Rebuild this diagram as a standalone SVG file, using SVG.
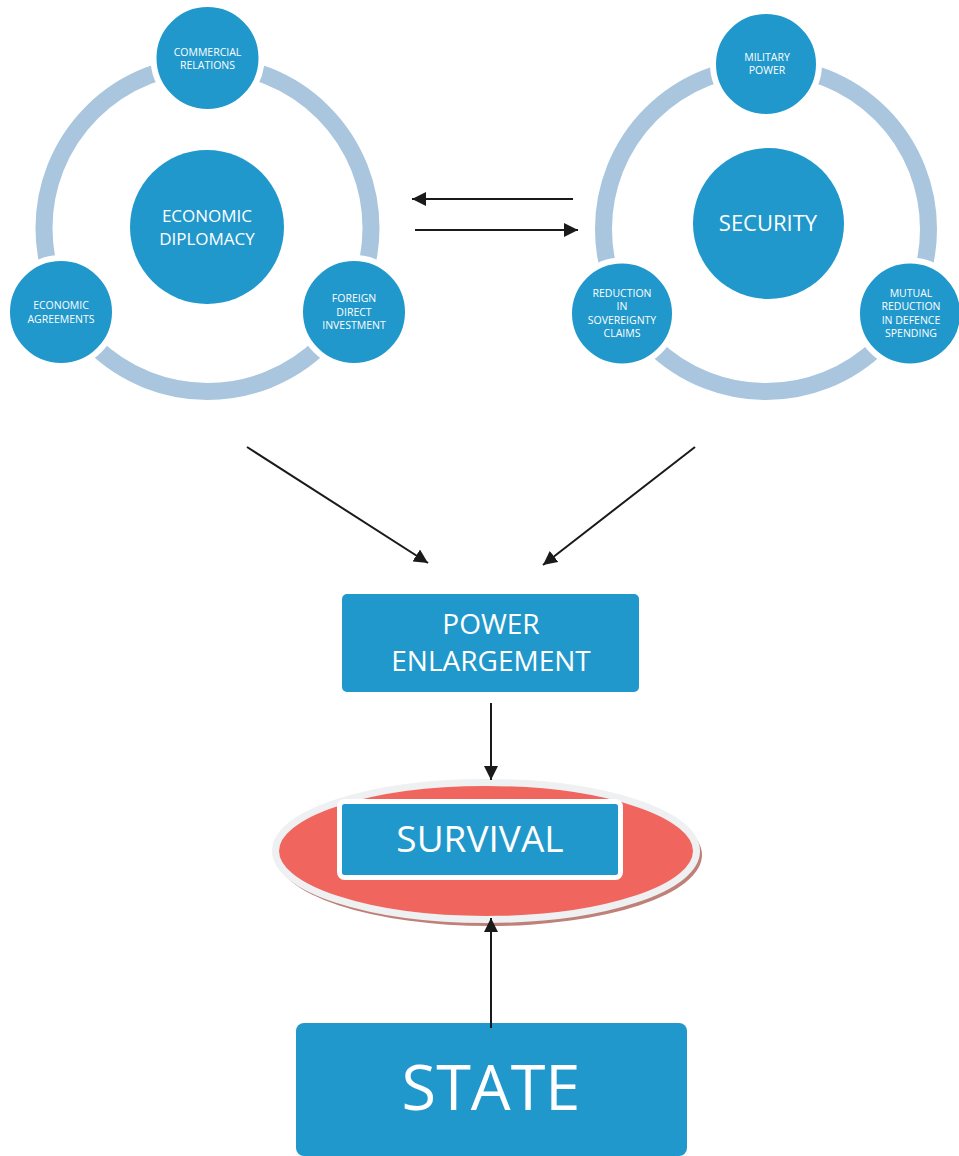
<svg xmlns="http://www.w3.org/2000/svg" width="959" height="1156" viewBox="0 0 959 1156">
<style>
.ring{fill:none;stroke:#a9c6de;stroke-width:17}
.small{fill:#2098cb;stroke:#ffffff;stroke-width:6}
.big{fill:#2098cb}
.box{fill:#2098cb}
.t{font-family:"Open Sans","Noto Sans",sans-serif;fill:#ffffff;text-anchor:middle}
.s{font-size:10.5px}
.conn{stroke:#1a1a1a;stroke-width:2;fill:none;marker-end:url(#ah)}
</style>
<defs>
<marker id="ah" viewBox="0 0 10 10" refX="10" refY="5" markerWidth="7" markerHeight="7" markerUnits="strokeWidth" orient="auto">
<path d="M0,0 L10,5 L0,10 z" fill="#1a1a1a"/>
</marker>
</defs>
<rect width="959" height="1156" fill="#ffffff"/>

<g id="left-cycle">
<circle class="ring" cx="207.5" cy="228" r="163.5"/>
<g id="economic-diplomacy">
<circle class="big" cx="207" cy="227" r="77"/>
<text class="t" font-size="17" x="207" y="222">ECONOMIC</text>
<text class="t" font-size="17" x="207" y="245">DIPLOMACY</text>
</g>
<g id="commercial-relations">
<circle class="small" cx="207.5" cy="58" r="54"/>
<text class="t s" x="207.5" y="56">COMMERCIAL</text>
<text class="t s" x="207.5" y="69">RELATIONS</text>
</g>
<g id="economic-agreements">
<circle class="small" cx="61" cy="312" r="54"/>
<text class="t s" x="61" y="309">ECONOMIC</text>
<text class="t s" x="61" y="323">AGREEMENTS</text>
</g>
<g id="fdi">
<circle class="small" cx="354" cy="312" r="54"/>
<text class="t s" x="354" y="302">FOREIGN</text>
<text class="t s" x="354" y="316">DIRECT</text>
<text class="t s" x="354" y="329">INVESTMENT</text>
</g>
</g>

<g id="right-cycle">
<circle class="ring" cx="766" cy="229" r="162.5"/>
<g id="security">
<circle class="big" cx="768.5" cy="223.5" r="75.5"/>
<text class="t" font-size="22" x="768" y="231">SECURITY</text>
</g>
<g id="military-power">
<circle class="small" cx="766" cy="64" r="53"/>
<text class="t s" x="767" y="61">MILITARY</text>
<text class="t s" x="767" y="74">POWER</text>
</g>
<g id="reduction-sovereignty">
<circle class="small" cx="622" cy="313.5" r="53"/>
<text class="t s" x="622" y="297">REDUCTION</text>
<text class="t s" x="622" y="310">IN</text>
<text class="t s" x="622" y="324">SOVEREIGNTY</text>
<text class="t s" x="622" y="337">CLAIMS</text>
</g>
<g id="mutual-reduction">
<circle class="small" cx="910" cy="313.5" r="53"/>
<text class="t s" x="911" y="297">MUTUAL</text>
<text class="t s" x="911" y="310">REDUCTION</text>
<text class="t s" x="911" y="324">IN DEFENCE</text>
<text class="t s" x="911" y="337">SPENDING</text>
</g>
</g>

<g id="survival">
<ellipse cx="489" cy="855" rx="213" ry="71" fill="#bf8078"/>
<ellipse cx="486" cy="851" rx="210.5" ry="68.5" fill="#f0655e" stroke="#eef0f2" stroke-width="7"/>
<rect x="339.5" y="801.5" width="281" height="76" rx="5" fill="#2098cb" stroke="#ffffff" stroke-width="5"/>
<text class="t" font-size="37" x="480" y="852">SURVIVAL</text>
</g>

<g id="power-enlargement">
<rect class="box" x="342" y="594" width="297" height="98" rx="5"/>
<text class="t" font-size="28" x="491" y="634">POWER</text>
<text class="t" font-size="28" x="491" y="671">ENLARGEMENT</text>
</g>

<g id="state">
<rect class="box" x="296" y="1023" width="391" height="133" rx="8"/>
<text class="t" font-size="63" x="491" y="1110">STATE</text>
</g>

<g id="connectors">
<line class="conn" x1="573" y1="199" x2="412" y2="199"/>
<line class="conn" x1="415" y1="230" x2="578" y2="230"/>
<line class="conn" x1="247" y1="447" x2="428" y2="563"/>
<line class="conn" x1="695" y1="447" x2="543" y2="565"/>
<line class="conn" x1="491" y1="703" x2="491" y2="780"/>
<line class="conn" x1="491" y1="1028" x2="491" y2="918"/>
</g>
</svg>
